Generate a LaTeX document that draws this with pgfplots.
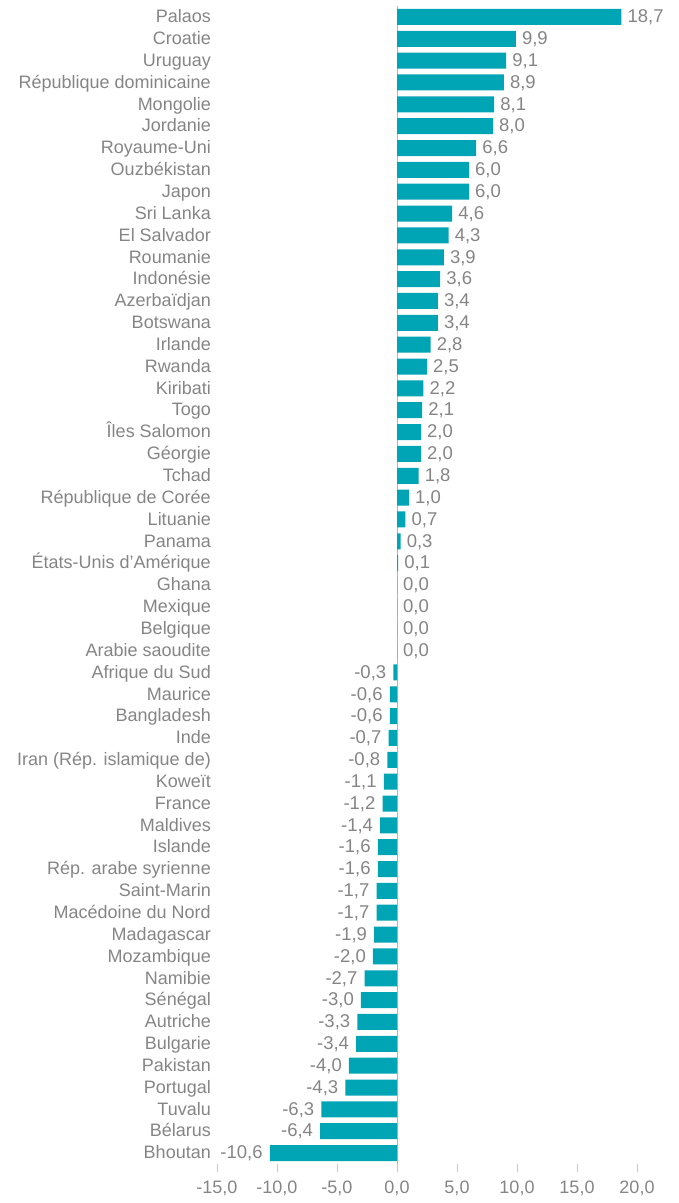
\documentclass[border=0pt]{standalone}
\usepackage{fontspec}
\setmainfont{Liberation Sans}
\usepackage{pgfplots}
\pgfplotsset{compat=1.18}
\definecolor{barc}{HTML}{00A5B5}
\definecolor{txt}{HTML}{858585}
\definecolor{zline}{HTML}{A8B8BC}
\definecolor{tickc}{HTML}{C8C8C8}
\begin{document}
\begin{tikzpicture}
\begin{axis}[
  at={(217pt,39pt)}, anchor=south west,
  scale only axis, width=420pt, height=1158pt,
  xmin=-15, xmax=20, ymin=-0.5, ymax=52.5,
  y dir=reverse,
  xbar, bar width=16pt, bar shift=0pt,
  axis line style={draw=none},
  xtick={-15,-10,...,20},
  xtick align=outside,
  major tick length=8pt,
  x tick style={draw=tickc, line width=0.8pt},
  y tick style={draw=none},
  xtick pos=bottom,
  ytick={0,...,52},
  yticklabels={Palaos,Croatie,Uruguay,République dominicaine,Mongolie,Jordanie,Royaume-Uni,{Ouzbékistan\ },Japon,{Sri Lanka\ },El Salvador,Roumanie,Indonésie,Azerbaïdjan,Botswana,Irlande,Rwanda,Kiribati,Togo,Îles Salomon,Géorgie,Tchad,République de Corée,Lituanie,Panama,États-Unis d’Amérique,Ghana,Mexique,Belgique,Arabie saoudite,Afrique du Sud,Maurice,Bangladesh,Inde,{Iran (Rép. islamique de)},Koweït,France,Maldives,Islande,Rép. arabe syrienne,Saint-Marin,Macédoine du Nord,Madagascar,Mozambique,Namibie,Sénégal,Autriche,Bulgarie,Pakistan,Portugal,Tuvalu,Bélarus,Bhoutan},
  ticklabel style={font=\fontsize{18}{20}\selectfont, text=txt},
  yticklabel style={inner sep=0pt, anchor=east, xshift=2pt, yshift=-1pt, text height=13pt, text depth=3.5pt},
  xticklabel style={yshift=-5pt},
  /pgf/number format/.cd, fixed, fixed zerofill, precision=1, use comma, assume math mode=true,
  /pgfplots/.cd,
  point meta=x,
  nodes near coords={\pgfmathprintnumber[fixed,fixed zerofill,precision=1,use comma,assume math mode=true]{\pgfplotspointmeta}},
  nodes near coords style={font=\fontsize{18.5}{20}\selectfont, text=txt, inner xsep=0pt, inner ysep=0pt, text height=13pt, text depth=3.5pt, yshift=-1pt},
  clip=false,
]
\draw[zline, line width=0.8pt] (axis cs:0,-0.5) -- (axis cs:0,52.5);
\addplot[fill=barc, draw=none, nodes near coords style={anchor=west, xshift=6pt}] coordinates {
(18.7,0) (9.9,1) (9.1,2) (8.9,3) (8.1,4) (8.0,5) (6.6,6) (6.0,7) (6.0,8) (4.6,9)
(4.3,10) (3.9,11) (3.6,12) (3.4,13) (3.4,14) (2.8,15) (2.5,16) (2.2,17) (2.1,18) (2.0,19)
(2.0,20) (1.8,21) (1.0,22) (0.7,23) (0.3,24) (0.1,25) (0.0,26) (0.0,27) (0.0,28) (0.0,29)
};
\addplot[fill=barc, draw=none, nodes near coords style={anchor=east, xshift=-7pt}] coordinates {
(-0.3,30) (-0.6,31) (-0.6,32) (-0.7,33) (-0.8,34) (-1.1,35) (-1.2,36) (-1.4,37) (-1.6,38) (-1.6,39)
(-1.7,40) (-1.7,41) (-1.9,42) (-2.0,43) (-2.7,44) (-3.0,45) (-3.3,46) (-3.4,47) (-4.0,48) (-4.3,49)
(-6.3,50) (-6.4,51) (-10.6,52)
};
\end{axis}
\pgfresetboundingbox
\path[use as bounding box] (0,0) rectangle (679pt,1203pt);
\end{tikzpicture}
\end{document}
